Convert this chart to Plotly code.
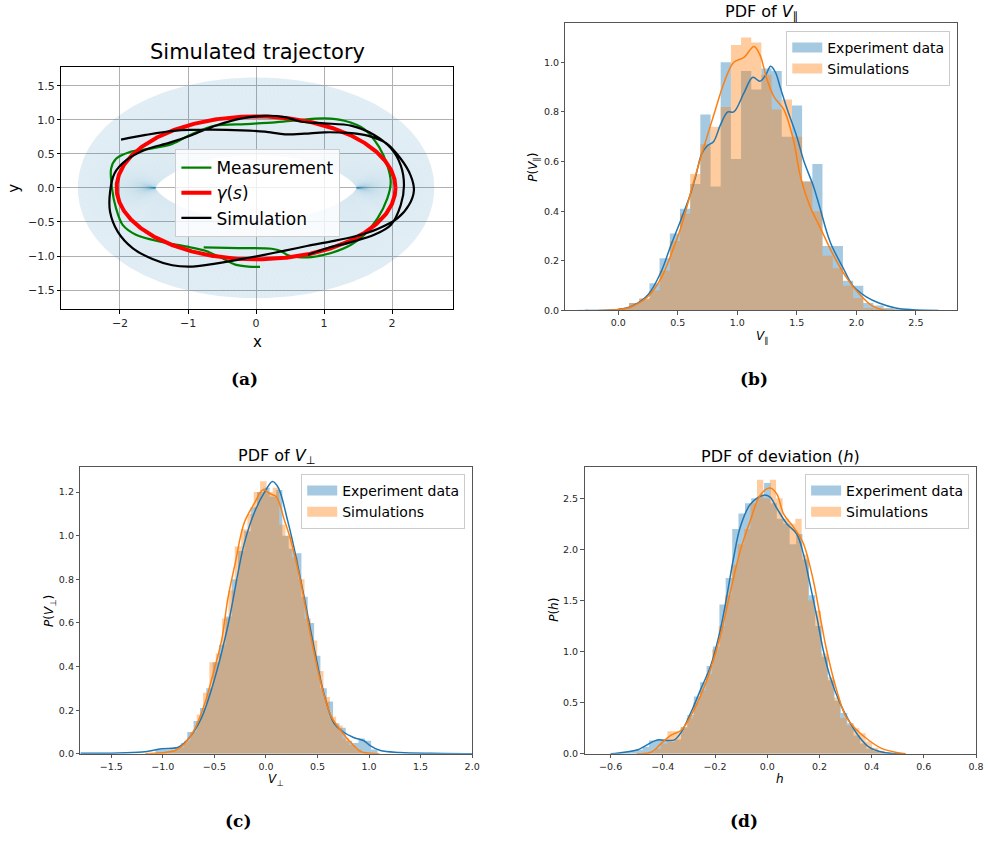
import numpy as np
import plotly.graph_objects as go

# ---------------- Panel (a): trajectories ----------------
MEAS_X = [-0.77, -0.258, 0.229, 0.375, 0.472, 0.618, 0.813, 1.105, 1.397, 1.59, 1.786, 1.93, 1.98, 1.93,
          1.81, 1.59, 1.30, 1.007, 0.618, 0.277, -0.16, -0.599, -0.939, -1.231, -1.572, -1.864, -2.058,
          -2.131, -2.117, -2.058, -1.961, -1.766, -1.426, -1.036, -0.745, -0.501, -0.307, -0.112, 0.058]
MEAS_Y = [-0.874, -0.883, -0.893, -0.932, -0.99, -1.015, -1.015, -0.956, -0.835, -0.69, -0.447, -0.155,
          0.087, 0.33, 0.597, 0.864, 0.985, 1.019, 0.995, 0.961, 0.937, 0.913, 0.791, 0.646, 0.573, 0.524,
          0.427, 0.282, -0.01, -0.301, -0.544, -0.689, -0.786, -0.859, -0.922, -1.03, -1.126, -1.155, -1.16]

SIM_X = [-1.985, -1.62, -1.182, -0.696, -0.209, 0.131, 0.423, 0.715, 1.007, 1.348, 1.64, 1.908, 2.127,
         2.272, 2.321, 2.248, 2.078, 1.786, 1.445, 1.105, 0.764, 0.423, 0.083, -0.258, -0.599, -0.939,
         -1.231, -1.523, -1.815, -2.034, -2.146, -2.146, -2.083, -1.912, -1.62, -1.28, -0.939, -0.599,
         -0.209, 0.131, 0.423, 0.667, 1.007, 1.397, 1.737, 1.981, 2.127, 2.175, 2.127, 1.981, 1.737,
         1.397, 1.056, 0.764]
SIM_Y = [0.709, 0.777, 0.840, 0.854, 0.845, 0.825, 0.786, 0.796, 0.816, 0.806, 0.767, 0.660, 0.427,
         0.184, -0.034, -0.252, -0.447, -0.602, -0.714, -0.786, -0.850, -0.922, -0.990, -1.053, -1.112,
         -1.155, -1.136, -1.044, -0.883, -0.641, -0.350, -0.058, 0.209, 0.403, 0.563, 0.660, 0.777,
         0.913, 1.019, 1.058, 1.039, 0.971, 0.947, 0.913, 0.777, 0.583, 0.330, 0.039, -0.252, -0.544,
         -0.689, -0.796, -0.883, -0.981]

GAMMA_A = 2.05      # semi-axes of the reference curve gamma(s)
GAMMA_B = 1.05
TUBE_HALF = 0.57    # half-width of the shaded tube around gamma(s)

# ---------------- Panel (b): V_parallel ----------------
B_BIN_W = 0.0855
B_EXP_CENTERS = [-0.294, -0.209, -0.123, -0.038, 0.048, 0.134, 0.219, 0.305, 0.390, 0.476, 0.561, 0.647,
                 0.732, 0.818, 0.903, 0.989, 1.074, 1.160, 1.245, 1.331, 1.416, 1.502, 1.587, 1.673,
                 1.758, 1.844, 1.930, 2.015, 2.101, 2.186, 2.272, 2.357, 2.443, 2.528, 2.614, 2.699]
B_EXP_HEIGHTS = [0.003, 0, 0, 0.003, 0.008, 0.03, 0.045, 0.11, 0.21, 0.31, 0.41, 0.51, 0.79, 0.50, 1.00,
                 0.61, 0.965, 0.89, 0.975, 0.965, 0.70, 0.826, 0.52, 0.59, 0.26, 0.26, 0.12, 0.10, 0.03,
                 0.02, 0.01, 0.005, 0.003, 0.002, 0.002, 0.001]
B_SIM_CENTERS = [0.048, 0.134, 0.219, 0.305, 0.390, 0.476, 0.561, 0.647, 0.732, 0.818, 0.903, 0.989,
                 1.074, 1.160, 1.245, 1.331, 1.416, 1.502, 1.587, 1.673, 1.758, 1.844, 1.930, 2.015,
                 2.101, 2.186]
B_SIM_HEIGHTS = [0.01, 0.03, 0.05, 0.08, 0.16, 0.28, 0.39, 0.55, 0.67, 0.74, 0.82, 1.07, 1.10, 1.08,
                 0.95, 0.81, 0.85, 0.70, 0.52, 0.40, 0.22, 0.17, 0.10, 0.05, 0.01, 0.005]
B_KDE_EXP_X = [-0.28, 0.0, 0.11, 0.25, 0.36, 0.44, 0.53, 0.60, 0.65, 0.70, 0.75, 0.80, 0.86, 0.92, 0.97,
               1.056, 1.13, 1.19, 1.24, 1.28, 1.32, 1.36, 1.42, 1.5, 1.56, 1.64, 1.69, 1.78, 1.89, 1.97,
               2.08, 2.19, 2.33, 2.47, 2.69]
B_KDE_EXP_Y = [0, 0.004, 0.016, 0.063, 0.156, 0.26, 0.37, 0.46, 0.54, 0.63, 0.665, 0.68, 0.75, 0.80,
               0.80, 0.877, 0.94, 0.924, 0.95, 0.984, 0.96, 0.90, 0.81, 0.70, 0.60, 0.50, 0.42, 0.276,
               0.17, 0.10, 0.056, 0.03, 0.01, 0.003, 0]
B_KDE_SIM_X = [-0.17, 0.08, 0.25, 0.36, 0.44, 0.53, 0.64, 0.72, 0.81, 0.89, 0.97, 1.056, 1.14, 1.19,
               1.25, 1.31, 1.39, 1.47, 1.53, 1.61, 1.69, 1.81, 1.92, 2.03, 2.14, 2.22, 2.35]
B_KDE_SIM_Y = [0, 0.01, 0.056, 0.13, 0.22, 0.34, 0.53, 0.66, 0.80, 0.92, 1.0, 1.02, 1.064, 1.03, 0.93,
               0.86, 0.81, 0.69, 0.54, 0.42, 0.34, 0.22, 0.13, 0.063, 0.016, 0.003, 0]

# ---------------- Panel (c): V_perp ----------------
C_BIN_W = 0.0615
C_EXP_CENTERS = [-1.04, -0.978, -0.917, -0.855, -0.794, -0.732, -0.671, -0.609, -0.548, -0.486, -0.425,
                 -0.363, -0.302, -0.240, -0.179, -0.117, -0.056, 0.006, 0.067, 0.129, 0.190, 0.252,
                 0.313, 0.375, 0.436, 0.498, 0.559, 0.621, 0.682, 0.744, 0.805, 0.867, 0.928, 0.990, 1.051]
C_EXP_HEIGHTS = [0.02, 0.02, 0.02, 0.03, 0.05, 0.10, 0.15, 0.21, 0.30, 0.42, 0.50, 0.63, 0.80, 0.93, 1.02,
                 1.13, 1.20, 1.22, 1.18, 1.21, 1.00, 0.94, 0.92, 0.72, 0.60, 0.45, 0.30, 0.24, 0.14, 0.12,
                 0.06, 0.05, 0.07, 0.06, 0.02]
C_SIM_CENTERS = [-1.01, -0.948, -0.887, -0.825, -0.764, -0.702, -0.641, -0.579, -0.518, -0.456, -0.395,
                 -0.333, -0.272, -0.210, -0.149, -0.087, -0.026, 0.036, 0.097, 0.159, 0.220, 0.282,
                 0.343, 0.405, 0.466, 0.528, 0.589, 0.651, 0.712, 0.774, 0.835, 0.897, 0.958]
C_SIM_HEIGHTS = [0.005, 0.01, 0.015, 0.03, 0.06, 0.10, 0.18, 0.28, 0.42, 0.46, 0.62, 0.75, 0.95, 1.03,
                 1.10, 1.20, 1.25, 1.20, 1.22, 1.05, 1.00, 0.90, 0.80, 0.62, 0.52, 0.38, 0.26, 0.17, 0.13,
                 0.07, 0.04, 0.02, 0.005]
C_KDE_EXP_X = [-1.8, -1.5, -1.2, -1.01, -0.85, -0.75, -0.63, -0.5, -0.37, -0.21, -0.1, 0.0, 0.064, 0.12,
               0.21, 0.27, 0.37, 0.47, 0.56, 0.66, 0.75, 0.85, 0.95, 1.01, 1.11, 1.3, 1.6, 2.0]
C_KDE_EXP_Y = [0.002, 0.003, 0.008, 0.023, 0.03, 0.07, 0.16, 0.34, 0.585, 0.965, 1.12, 1.21, 1.249, 1.22,
               1.07, 0.95, 0.72, 0.48, 0.28, 0.14, 0.10, 0.075, 0.06, 0.038, 0.015, 0.006, 0.002, 0.0]
C_KDE_SIM_X = [-1.17, -1.01, -0.88, -0.79, -0.69, -0.59, -0.5, -0.43, -0.37, -0.3, -0.21, -0.11, -0.03,
               0.05, 0.1, 0.18, 0.24, 0.34, 0.43, 0.53, 0.63, 0.72, 0.82, 0.92, 1.01, 1.1]
C_KDE_SIM_Y = [0.0, 0.005, 0.015, 0.046, 0.114, 0.235, 0.39, 0.52, 0.71, 0.87, 1.06, 1.15, 1.21, 1.19,
               1.18, 1.07, 0.98, 0.78, 0.55, 0.33, 0.175, 0.11, 0.053, 0.01, 0.003, 0.0]

# ---------------- Panel (d): deviation h ----------------
D_BIN_W = 0.0245
D_EXP_CENTERS = [-0.588, -0.563, -0.539, -0.514, -0.490, -0.465, -0.441, -0.416, -0.392, -0.367, -0.343,
                 -0.318, -0.294, -0.269, -0.245, -0.220, -0.196, -0.171, -0.147, -0.122, -0.098, -0.073,
                 -0.049, -0.024, 0.000, 0.025, 0.049, 0.074, 0.098, 0.123, 0.147, 0.172, 0.196, 0.221,
                 0.245, 0.270, 0.294, 0.319, 0.343, 0.368, 0.392, 0.417, 0.441, 0.466, 0.490]
D_EXP_HEIGHTS = [0.005, 0.01, 0.02, 0.03, 0.04, 0.07, 0.13, 0.14, 0.14, 0.12, 0.14, 0.26, 0.38, 0.56,
                 0.70, 0.86, 1.05, 1.46, 1.72, 2.20, 2.35, 2.45, 2.50, 2.52, 2.65, 2.45, 2.30, 2.25, 2.05,
                 2.15, 1.90, 1.55, 1.25, 0.95, 0.72, 0.52, 0.40, 0.30, 0.18, 0.10, 0.05, 0.03, 0.01,
                 0.005, 0.002]
D_SIM_CENTERS = [-0.468, -0.444, -0.419, -0.395, -0.370, -0.346, -0.321, -0.297, -0.272, -0.248, -0.223,
                 -0.199, -0.174, -0.150, -0.125, -0.101, -0.076, -0.052, -0.027, -0.003, 0.022, 0.046,
                 0.071, 0.095, 0.120, 0.144, 0.169, 0.193, 0.218, 0.242, 0.267, 0.291, 0.316, 0.340,
                 0.365, 0.389, 0.414, 0.438, 0.463, 0.487, 0.512]
D_SIM_HEIGHTS = [0.01, 0.02, 0.05, 0.10, 0.22, 0.22, 0.26, 0.35, 0.50, 0.62, 0.78, 1.02, 1.25, 1.55,
                 1.85, 2.05, 2.20, 2.45, 2.68, 2.50, 2.68, 2.50, 2.30, 2.25, 2.30, 1.95, 1.50, 1.40, 0.98,
                 0.75, 0.55, 0.35, 0.28, 0.25, 0.20, 0.12, 0.06, 0.03, 0.01, 0.005, 0.002]
D_KDE_EXP_X = [-0.6, -0.546, -0.496, -0.445, -0.42, -0.38, -0.356, -0.33, -0.293, -0.255, -0.217, -0.18,
               -0.153, -0.128, -0.103, -0.065, -0.014, 0.011, 0.037, 0.075, 0.113, 0.138, 0.163, 0.19,
               0.214, 0.24, 0.278, 0.316, 0.354, 0.39, 0.43, 0.48, 0.53]
D_KDE_EXP_Y = [0.0, 0.016, 0.04, 0.11, 0.136, 0.13, 0.136, 0.21, 0.40, 0.63, 0.86, 1.21, 1.57, 1.93,
               2.22, 2.44, 2.53, 2.51, 2.40, 2.25, 2.15, 1.96, 1.67, 1.34, 1.02, 0.76, 0.50, 0.31, 0.16,
               0.065, 0.023, 0.003, 0.0]
D_KDE_SIM_X = [-0.5, -0.445, -0.407, -0.37, -0.33, -0.293, -0.255, -0.217, -0.18, -0.14, -0.103, -0.065,
               -0.027, 0.011, 0.037, 0.062, 0.1, 0.138, 0.176, 0.2, 0.227, 0.265, 0.3, 0.34, 0.39, 0.44,
               0.49, 0.53]
D_KDE_SIM_Y = [0.0, 0.016, 0.1, 0.18, 0.23, 0.37, 0.57, 0.83, 1.15, 1.60, 1.99, 2.28, 2.53, 2.60, 2.54,
               2.35, 2.22, 2.06, 1.70, 1.38, 1.02, 0.63, 0.37, 0.24, 0.13, 0.05, 0.016, 0.0]

BLUE = "#1f77b4"
ORANGE = "#ff7f0e"
BLUE_A = "rgba(31,119,180,0.4)"
ORANGE_A = "rgba(255,127,14,0.4)"
FONT = "DejaVu Sans"
W, H = 991, 843

fig = go.Figure()

# ---- panel (a): tube shading around gamma(s)
s = np.linspace(0, 2 * np.pi, 721)
gx, gy = GAMMA_A * np.cos(s), GAMMA_B * np.sin(s)
nx, ny = GAMMA_B * np.cos(s), GAMMA_A * np.sin(s)
nn = np.hypot(nx, ny)
nx, ny = nx / nn, ny / nn
ox, oy = gx + TUBE_HALF * nx, gy + TUBE_HALF * ny
ix, iy = gx - TUBE_HALF * nx, gy - TUBE_HALF * ny
poly_x = np.concatenate([ox, ix[::-1], ox[:1]])
poly_y = np.concatenate([oy, iy[::-1], oy[:1]])
fig.add_trace(go.Scatter(x=poly_x, y=poly_y, mode="lines", fill="toself",
                         fillcolor="rgba(31,119,180,0.10)", line=dict(width=0),
                         hoverinfo="skip", showlegend=False, xaxis="x", yaxis="y"))
NGROUP = 10
for g in range(NGROUP):
    idx = np.arange(g, 720, NGROUP)
    xs, ys = [], []
    for j in idx:
        xs += [ix[j], ox[j], None]
        ys += [iy[j], oy[j], None]
    fig.add_trace(go.Scatter(x=xs, y=ys, mode="lines",
                             line=dict(color="rgba(31,119,180,0.07)", width=0.7),
                             hoverinfo="skip", showlegend=False, xaxis="x", yaxis="y"))

fig.add_trace(go.Scatter(x=MEAS_X, y=MEAS_Y, mode="lines", name="Measurement",
                         line=dict(color="green", width=2.2, shape="spline", smoothing=0.8),
                         xaxis="x", yaxis="y", legend="legend"))
fig.add_trace(go.Scatter(x=gx, y=gy, mode="lines", name="<i>γ</i>(<i>s</i>)",
                         line=dict(color="red", width=4), xaxis="x", yaxis="y", legend="legend"))
fig.add_trace(go.Scatter(x=SIM_X, y=SIM_Y, mode="lines", name="Simulation",
                         line=dict(color="black", width=2.2, shape="spline", smoothing=0.8),
                         xaxis="x", yaxis="y", legend="legend"))


def step_hist(centers, heights, bw, color, xa, ya):
    # draw a histogram as one filled step outline (no seams between bars)
    edges = [c - bw / 2 for c in centers] + [centers[-1] + bw / 2]
    xs = [edges[0]] + edges
    ys = [0] + list(heights) + [0]
    fig.add_trace(go.Scatter(x=xs, y=ys, mode="lines", line=dict(width=0, shape="hv"),
                             fill="tozeroy", fillcolor=color, showlegend=False,
                             hoverinfo="skip", xaxis=xa, yaxis=ya))


def hist_panel(xa, ya, leg, exp_c, exp_h, sim_c, sim_h, bw, kex, key, ksx, ksy):
    step_hist(exp_c, exp_h, bw, BLUE_A, xa, ya)
    step_hist(sim_c, sim_h, bw, ORANGE_A, xa, ya)
    fig.add_trace(go.Scatter(x=kex, y=key, mode="lines", line=dict(color=BLUE, width=1.5, shape="spline"),
                             showlegend=False, xaxis=xa, yaxis=ya))
    fig.add_trace(go.Scatter(x=ksx, y=ksy, mode="lines", line=dict(color=ORANGE, width=1.5, shape="spline"),
                             showlegend=False, xaxis=xa, yaxis=ya))
    fig.add_trace(go.Scatter(x=[None], y=[None], mode="lines", name="Experiment data",
                             line=dict(color=BLUE_A, width=10), xaxis=xa, yaxis=ya, legend=leg))
    fig.add_trace(go.Scatter(x=[None], y=[None], mode="lines", name="Simulations",
                             line=dict(color=ORANGE_A, width=10), xaxis=xa, yaxis=ya, legend=leg))


hist_panel("x2", "y2", "legend2", B_EXP_CENTERS, B_EXP_HEIGHTS, B_SIM_CENTERS, B_SIM_HEIGHTS, B_BIN_W,
           B_KDE_EXP_X, B_KDE_EXP_Y, B_KDE_SIM_X, B_KDE_SIM_Y)
hist_panel("x3", "y3", "legend3", C_EXP_CENTERS, C_EXP_HEIGHTS, C_SIM_CENTERS, C_SIM_HEIGHTS, C_BIN_W,
           C_KDE_EXP_X, C_KDE_EXP_Y, C_KDE_SIM_X, C_KDE_SIM_Y)
hist_panel("x4", "y4", "legend4", D_EXP_CENTERS, D_EXP_HEIGHTS, D_SIM_CENTERS, D_SIM_HEIGHTS, D_BIN_W,
           D_KDE_EXP_X, D_KDE_EXP_Y, D_KDE_SIM_X, D_KDE_SIM_Y)


def px(x):
    return x / W


def py(y):
    return 1 - y / H


def ax_style(dom, rng, anchor, tickvals, fmt, fsize, grid, lc):
    return dict(domain=dom, range=rng, anchor=anchor, tickmode="array", tickvals=tickvals,
                tickformat=fmt, ticks="outside", ticklen=3.5, tickwidth=1, tickcolor=lc,
                showline=True, mirror=True, linecolor=lc, linewidth=1,
                showgrid=grid, gridcolor="#b0b0b0", gridwidth=1, zeroline=False,
                tickfont=dict(family=FONT, size=fsize, color="#262626"), fixedrange=True)


def frange(a, b, st):
    n = int(round((b - a) / st))
    return [round(a + i * st, 6) for i in range(n + 1)]


legend_common = dict(bgcolor="rgba(255,255,255,0.8)", bordercolor="#cccccc", borderwidth=1,
                     xref="paper", yref="paper", itemwidth=30, tracegroupgap=0)

fig.update_layout(
    width=W, height=H, margin=dict(l=0, r=0, t=0, b=0),
    paper_bgcolor="white", plot_bgcolor="white",
    font=dict(family=FONT, color="black"),
    xaxis=ax_style([px(62), px(457)], [-2.86, 2.9], "y", [-2, -1, 0, 1, 2], "d", 11, True, "black"),
    yaxis=ax_style([py(311), py(67)], [-1.78, 1.78], "x", frange(-1.5, 1.5, 0.5), ".1f", 11, True, "black"),
    xaxis2=ax_style([px(570), px(965)], [-0.444, 2.847], "y2", frange(0, 2.5, 0.5), ".1f", 9.5, False, "#555"),
    yaxis2=ax_style([py(312.3), py(23)], [0, 1.159], "x2", frange(0, 1.0, 0.2), ".1f", 9.5, False, "#555"),
    xaxis3=ax_style([px(81), px(476)], [-1.8, 2.0], "y3", frange(-1.5, 2.0, 0.5), ".1f", 9.5, False, "#555"),
    yaxis3=ax_style([py(758.3), py(470)], [0, 1.314], "x3", frange(0, 1.2, 0.2), ".1f", 9.5, False, "#555"),
    xaxis4=ax_style([px(589.3), px(984)], [-0.7, 0.8], "y4", frange(-0.6, 0.8, 0.2), ".1f", 9.5, False, "#555"),
    yaxis4=ax_style([py(758.3), py(469.3)], [0, 2.81], "x4", frange(0, 2.5, 0.5), ".1f", 9.5, False, "#555"),
    legend=dict(x=px(260), y=py(150), xanchor="center", yanchor="top",
                font=dict(family=FONT, size=17), **legend_common),
    legend2=dict(x=px(958), y=py(31), xanchor="right", yanchor="top",
                 font=dict(family=FONT, size=14), **legend_common),
    legend3=dict(x=px(469), y=py(476.7), xanchor="right", yanchor="top",
                 font=dict(family=FONT, size=14), **legend_common),
    legend4=dict(x=px(977), y=py(476.7), xanchor="right", yanchor="top",
                 font=dict(family=FONT, size=14), **legend_common),
)

ANN = [
    ("Simulated trajectory", 260, 52, 21, 0),
    ("x", 260, 344, 15, 0),
    ("y", 14, 189, 15, -90),
    ("PDF of <i>V</i><sub>∥</sub>", 768, 13, 16, 0),
    ("<i>P</i>(<i>V</i><sub>∥</sub>)", 538, 168, 12, -90),
    ("<i>V</i><sub>∥</sub>", 768, 339, 12, 0),
    ("PDF of <i>V</i><sub>⊥</sub>", 278.5, 459, 16, 0),
    ("<i>P</i>(<i>V</i><sub>⊥</sub>)", 51, 615, 12, -90),
    ("<i>V</i><sub>⊥</sub>", 278.5, 785, 12, 0),
    ("PDF of deviation (<i>h</i>)", 786.5, 459, 16, 0),
    ("<i>P</i>(<i>h</i>)", 559, 613, 12, -90),
    ("<i>h</i>", 786.5, 784, 12, 0),
]
for txt, xx, yy, fs, ang in ANN:
    fig.add_annotation(text=txt, x=px(xx), y=py(yy), xref="paper", yref="paper", showarrow=False,
                       xanchor="center", yanchor="middle", textangle=ang,
                       font=dict(family=FONT, size=fs, color="black"))

for txt, xx, yy in [("(a)", 246, 381), ("(b)", 760, 381), ("(c)", 240, 826), ("(d)", 750, 826)]:
    fig.add_annotation(text="<b>%s</b>" % txt, x=px(xx), y=py(yy), xref="paper", yref="paper",
                       showarrow=False, xanchor="center", yanchor="middle",
                       font=dict(family="DejaVu Serif", size=17, color="black"))

fig.write_html("out.html")
